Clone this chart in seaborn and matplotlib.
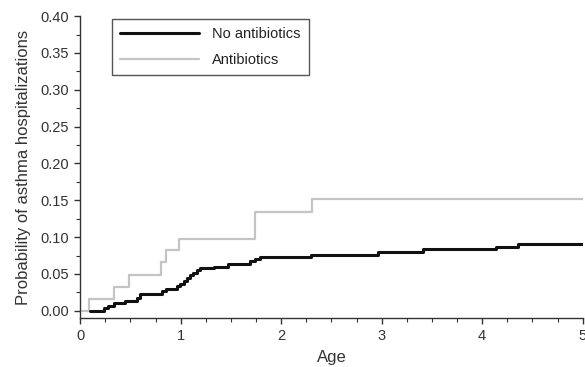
import matplotlib
matplotlib.use("Agg")
import matplotlib.pyplot as plt
from matplotlib.ticker import MultipleLocator, FormatStrFormatter
import seaborn as sns
import pandas as pd

# Kaplan-Meier style cumulative probability of asthma hospitalization by age
no_abx_age = [0.10, 0.24, 0.28, 0.34, 0.45, 0.57, 0.60, 0.81, 0.85, 0.96, 0.99,
              1.03, 1.06, 1.09, 1.12, 1.16, 1.19, 1.33, 1.47, 1.69, 1.74, 1.79,
              2.30, 2.96, 3.41, 4.14, 4.36, 5.00]
no_abx_prob = [0.000, 0.004, 0.007, 0.010, 0.013, 0.018, 0.023, 0.027, 0.030,
               0.034, 0.037, 0.040, 0.044, 0.048, 0.052, 0.055, 0.058, 0.060,
               0.063, 0.067, 0.070, 0.073, 0.076, 0.080, 0.084, 0.087, 0.091,
               0.091]

abx_age = [0.00, 0.09, 0.34, 0.49, 0.80, 0.85, 0.98, 1.74, 2.31, 5.00]
abx_prob = [0.000, 0.016, 0.033, 0.049, 0.066, 0.082, 0.098, 0.134, 0.152, 0.152]

series_labels = ["No antibiotics", "Antibiotics"]

sns.set_theme(style="ticks")
plt.rcParams["font.family"] = ["Liberation Sans", "DejaVu Sans"]

fig = plt.figure(figsize=(5.85, 3.67), dpi=100)
ax = fig.add_axes([0.137, 0.134, 0.859, 0.822])

df_no = pd.DataFrame({"Age": no_abx_age, "Prob": no_abx_prob})
df_ab = pd.DataFrame({"Age": abx_age, "Prob": abx_prob})

sns.lineplot(data=df_ab, x="Age", y="Prob", ax=ax, color="#c4c4c4",
             linewidth=1.6, drawstyle="steps-post", estimator=None,
             sort=False, label=series_labels[1], zorder=2)
sns.lineplot(data=df_no, x="Age", y="Prob", ax=ax, color="#111111",
             linewidth=2.2, drawstyle="steps-post", estimator=None,
             sort=False, label=series_labels[0], zorder=3)

ax.set_xlim(0, 5)
ax.set_ylim(-0.0095, 0.40)
ax.xaxis.set_major_locator(MultipleLocator(1))
ax.xaxis.set_minor_locator(MultipleLocator(0.25))
ax.yaxis.set_minor_locator(MultipleLocator(0.025))
ax.yaxis.set_major_formatter(FormatStrFormatter("%.2f"))
ax.set_yticks([0.0, 0.05, 0.10, 0.15, 0.20, 0.25, 0.30, 0.35, 0.40])

for side in ("top", "right"):
    ax.spines[side].set_visible(False)
for side in ("left", "bottom"):
    ax.spines[side].set_color("#333333")
    ax.spines[side].set_linewidth(1.0)

ax.tick_params(which="major", direction="out", length=4, width=1,
               color="#333333", labelsize=10.5, labelcolor="#333333", pad=4)
ax.tick_params(which="minor", direction="out", length=3, width=0.8,
               color="#333333")

ax.set_xlabel("Age", fontsize=12, color="#333333", labelpad=5)
ax.set_ylabel("Probability of asthma hospitalizations", fontsize=12,
              color="#333333", labelpad=7)

handles, labels = ax.get_legend_handles_labels()
order = [labels.index(series_labels[0]), labels.index(series_labels[1])]
leg = ax.legend([handles[i] for i in order], [labels[i] for i in order],
                loc="upper left", bbox_to_anchor=(0.064, 0.99),
                frameon=True, fancybox=False, framealpha=1,
                edgecolor="#555555", fontsize=10.5, handlelength=5.4,
                handletextpad=0.9, labelspacing=0.8, borderpad=0.55,
                borderaxespad=0)
leg._legend_box.sep = 8
leg.get_frame().set_linewidth(1.0)
for t in leg.get_texts():
    t.set_color("#222222")

fig.savefig("out.png", dpi=100)
